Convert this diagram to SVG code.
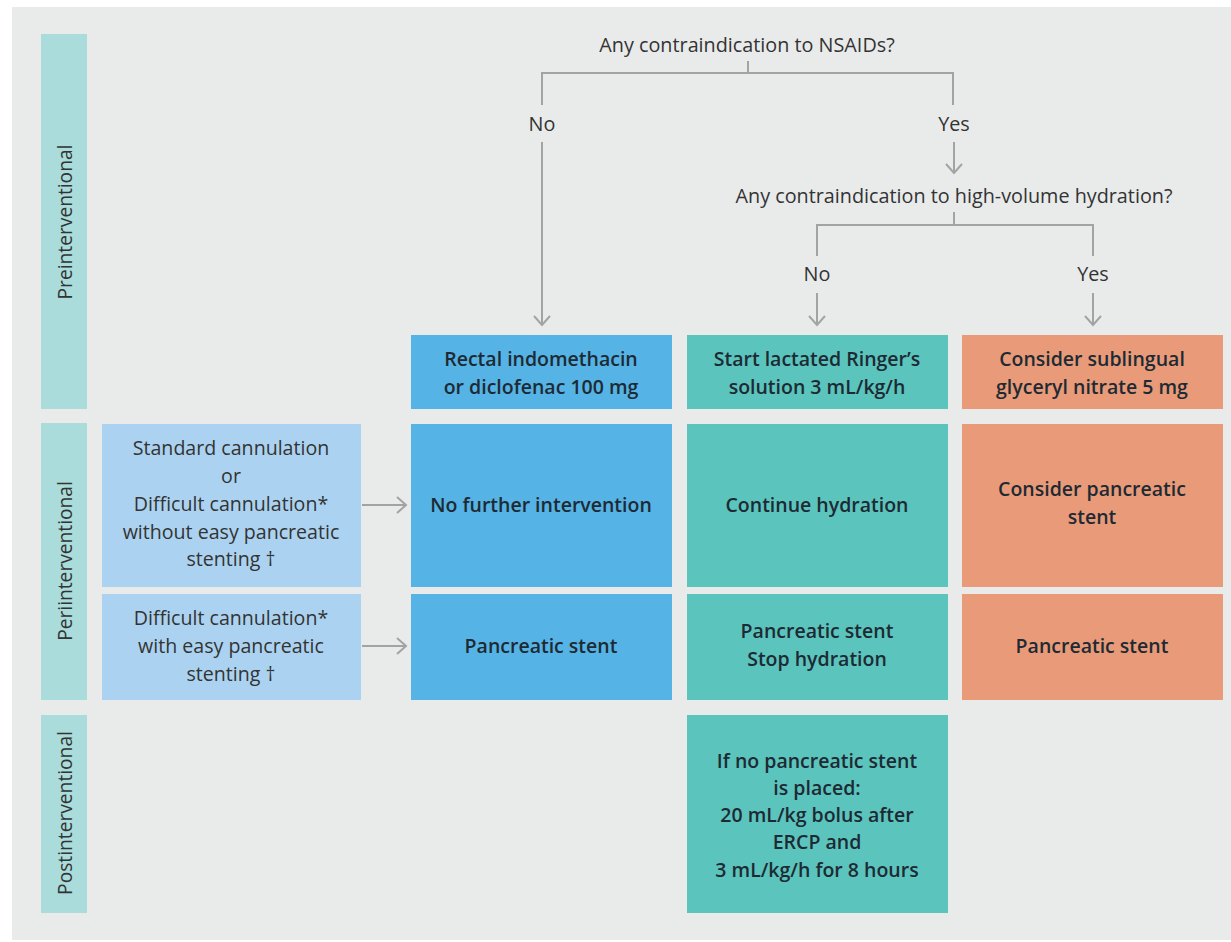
<svg xmlns="http://www.w3.org/2000/svg" width="1231" height="942" viewBox="0 0 1231 942">
<defs>
<style>
.phase{fill:#a9dcda}
.inp{fill:#abd3f1}
.blue{fill:#55b3e6}
.teal{fill:#5bc4bd}
.sal{fill:#e99b79}
.q{font-family:"Open Sans","Liberation Sans",sans-serif;font-size:19.8px;fill:#333;text-anchor:middle;dominant-baseline:central}
.pl{font-family:"Open Sans","Liberation Sans",sans-serif;font-size:19.2px;fill:#333;text-anchor:middle;dominant-baseline:central}
.t{font-family:"Open Sans","Liberation Sans",sans-serif;font-size:19.6px;fill:#333;text-anchor:middle;dominant-baseline:central}
.b{font-family:"Open Sans","Liberation Sans",sans-serif;font-size:19.5px;font-weight:600;fill:#1e2a33;text-anchor:middle;dominant-baseline:central}
.ln{fill:none;stroke:#a3a3a3;stroke-width:2}
</style>
<marker id="ah" markerUnits="userSpaceOnUse" viewBox="-12 -10 14 20" refX="0" refY="0" markerWidth="14" markerHeight="20" orient="auto">
<path d="M-9,-8 L0,0 L-9,8" fill="none" stroke="#a3a3a3" stroke-width="2"/>
</marker>
</defs>
<rect x="0" y="0" width="1231" height="942" fill="#ffffff"/>
<rect x="12" y="7" width="1219" height="933" fill="#e9ebeb"/>

<g id="phase-pre"><rect class="phase" x="41" y="34" width="46" height="375"/><text class="pl" transform="translate(64,222) rotate(-90)">Preinterventional</text></g>
<g id="phase-peri"><rect class="phase" x="41" y="423" width="46" height="277"/><text class="pl" transform="translate(64,561) rotate(-90)">Periinterventional</text></g>
<g id="phase-post"><rect class="phase" x="41" y="715" width="46" height="198"/><text class="pl" transform="translate(64,813) rotate(-90)">Postinterventional</text></g>

<g id="q1"><text class="q" x="747" y="44">Any contraindication to NSAIDs?</text></g>
<g id="q2"><text class="q" x="954" y="195">Any contraindication to high-volume hydration?</text></g>

<g id="in-standard"><rect class="inp" x="102" y="424" width="259" height="163"/>
<text class="t" x="231" y="447">Standard cannulation</text>
<text class="t" x="231" y="475">or</text>
<text class="t" x="231" y="503">Difficult cannulation*</text>
<text class="t" x="231" y="531">without easy pancreatic</text>
<text class="t" x="231" y="558">stenting †</text></g>
<g id="in-difficult"><rect class="inp" x="102" y="594" width="259" height="106"/>
<text class="t" x="231" y="617">Difficult cannulation*</text>
<text class="t" x="231" y="645">with easy pancreatic</text>
<text class="t" x="231" y="673">stenting †</text></g>

<g id="b-pre"><rect class="blue" x="411" y="335" width="261" height="74"/>
<text class="b" x="541" y="358">Rectal indomethacin</text>
<text class="b" x="541" y="386">or diclofenac 100 mg</text></g>
<g id="b-peri1"><rect class="blue" x="411" y="424" width="261" height="163"/>
<text class="b" x="541" y="504">No further intervention</text></g>
<g id="b-peri2"><rect class="blue" x="411" y="594" width="261" height="106"/>
<text class="b" x="541" y="645">Pancreatic stent</text></g>

<g id="t-pre"><rect class="teal" x="687" y="335" width="261" height="74"/>
<text class="b" x="817" y="358">Start lactated Ringer’s</text>
<text class="b" x="817" y="386">solution 3 mL/kg/h</text></g>
<g id="t-peri1"><rect class="teal" x="687" y="424" width="261" height="163"/>
<text class="b" x="817" y="504">Continue hydration</text></g>
<g id="t-peri2"><rect class="teal" x="687" y="594" width="261" height="106"/>
<text class="b" x="817" y="630">Pancreatic stent</text>
<text class="b" x="817" y="658">Stop hydration</text></g>
<g id="t-post"><rect class="teal" x="687" y="715" width="261" height="198"/>
<text class="b" x="817" y="760">If no pancreatic stent</text>
<text class="b" x="817" y="787">is placed:</text>
<text class="b" x="817" y="814">20 mL/kg bolus after</text>
<text class="b" x="817" y="841">ERCP and</text>
<text class="b" x="817" y="869">3 mL/kg/h for 8 hours</text></g>

<g id="s-pre"><rect class="sal" x="962" y="335" width="261" height="74"/>
<text class="b" x="1092" y="358">Consider sublingual</text>
<text class="b" x="1092" y="386">glyceryl nitrate 5 mg</text></g>
<g id="s-peri1"><rect class="sal" x="962" y="424" width="261" height="163"/>
<text class="b" x="1092" y="488">Consider pancreatic</text>
<text class="b" x="1092" y="516">stent</text></g>
<g id="s-peri2"><rect class="sal" x="962" y="594" width="261" height="106"/>
<text class="b" x="1092" y="645">Pancreatic stent</text></g>

<g id="connectors">
<path class="ln" d="M748,61 V73 M542,105 V73 H953 V105"/>
<text class="q" x="542" y="123">No</text>
<text class="q" x="954" y="123">Yes</text>
<path class="ln" d="M542,142 V325" marker-end="url(#ah)"/>
<path class="ln" d="M954,142 V173" marker-end="url(#ah)"/>
<path class="ln" d="M954,212 V225 M817,256 V225 H1093 V256"/>
<text class="q" x="817" y="273">No</text>
<text class="q" x="1093" y="273">Yes</text>
<path class="ln" d="M817,293 V325" marker-end="url(#ah)"/>
<path class="ln" d="M1093,293 V325" marker-end="url(#ah)"/>
<path class="ln" d="M362,505 H406" marker-end="url(#ah)"/>
<path class="ln" d="M362,646 H406" marker-end="url(#ah)"/>
</g>
</svg>
